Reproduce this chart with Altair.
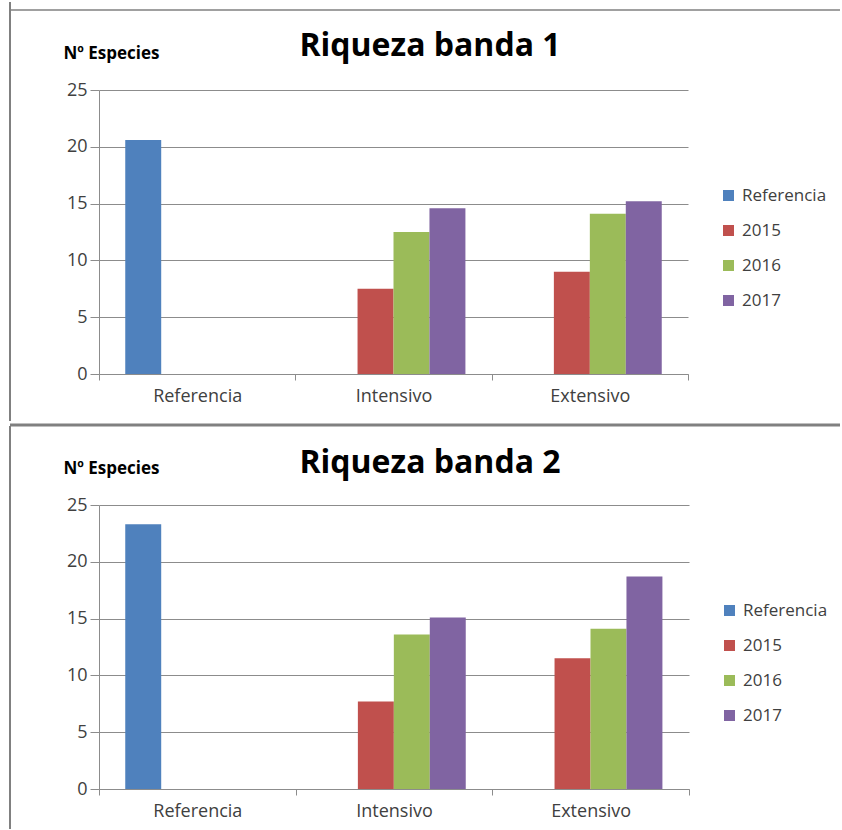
import altair as alt
import pandas as pd

# Categories, series and colours
categorias = ["Referencia", "Intensivo", "Extensivo"]
series = ["Referencia", "2015", "2016", "2017"]
colores = ["#4F81BD", "#C0504D", "#9BBB59", "#8064A2"]
y_ticks = [0, 5, 10, 15, 20, 25]

# Riqueza banda 1 (values per category, None = no bar)
b1_referencia = [20.6, None, None]
b1_2015 = [None, 7.5, 9.0]
b1_2016 = [None, 12.5, 14.1]
b1_2017 = [None, 14.6, 15.2]

# Riqueza banda 2
b2_referencia = [23.3, None, None]
b2_2015 = [None, 7.7, 11.5]
b2_2016 = [None, 13.6, 14.1]
b2_2017 = [None, 15.1, 18.7]

FONT = "Open Sans"
TXT = "#404040"
GRID = "#8C8C8C"
FRAME = "#808080"
LEFT = 99  # distance from page edge to the plot area


def tabla(*cols):
    rows = []
    for serie, vals in zip(series, cols):
        for cat, v in zip(categorias, vals):
            if v is not None:
                rows.append({"categoria": cat, "serie": serie, "valor": v})
    return pd.DataFrame(rows)


def panel(df, titulo, width, top, bottom_h, frame_top_y, frame_top_w, title_y):
    height = 284
    right = 842 - LEFT
    one = pd.DataFrame({"k": [0]})

    # invisible box that fixes the panel's extent
    caja = alt.Chart(one).mark_rect(fillOpacity=0, strokeOpacity=0).encode(
        x=alt.value(-LEFT), x2=alt.value(right),
        y=alt.value(-top), y2=alt.value(bottom_h),
    )
    # frame lines around the panel
    linea_sup = alt.Chart(one).mark_rule(color=FRAME, strokeWidth=frame_top_w).encode(
        x=alt.value(-LEFT + 10), x2=alt.value(right - 2), y=alt.value(frame_top_y)
    )
    linea_izq = alt.Chart(one).mark_rule(color=FRAME, strokeWidth=2).encode(
        x=alt.value(-LEFT + 10), y=alt.value(-top + 2), y2=alt.value(bottom_h - 2)
    )
    # chart heading
    cabecera = alt.Chart(one).mark_text(
        font=FONT, fontSize=32, fontWeight="bold", color="#000",
        align="center", baseline="alphabetic",
    ).encode(x=alt.value(331), y=alt.value(title_y), text=alt.value(titulo))

    barras = alt.Chart(df).mark_bar().encode(
        x=alt.X(
            "categoria:N",
            sort=categorias,
            scale=alt.Scale(domain=categorias, paddingInner=0, paddingOuter=0),
            axis=alt.Axis(
                title=None, labelAngle=0, tickBand="extent", tickSize=6,
                domainColor=GRID, tickColor=GRID, labelFont=FONT,
                labelFontSize=18, labelColor=TXT, labelPadding=7, grid=False,
            ),
        ),
        xOffset=alt.XOffset(
            "serie:N",
            scale=alt.Scale(domain=series, paddingInner=0, paddingOuter=0.73),
        ),
        y=alt.Y(
            "valor:Q",
            scale=alt.Scale(domain=[0, 25], nice=False),
            axis=alt.Axis(
                values=y_ticks, title="Nº Especies", titleAngle=0,
                titleX=-36, titleY=-32, titleAlign="left",
                titleBaseline="alphabetic", titleFont=FONT, titleFontSize=17,
                titleFontWeight="bold", titleColor="#000",
                grid=True, gridColor=GRID, domainColor=GRID, tickColor=GRID,
                tickSize=9, labelPadding=3, labelFont=FONT, labelFontSize=18,
                labelColor=TXT,
            ),
        ),
        color=alt.Color(
            "serie:N",
            sort=series,
            scale=alt.Scale(domain=series, range=colores),
            legend=alt.Legend(
                title=None, orient="none", legendX=width + 32, legendY=97,
                symbolType="square", symbolSize=121, symbolStrokeWidth=0,
                labelFont=FONT, labelFontSize=17, labelColor=TXT,
                rowPadding=17, labelOffset=5, padding=0,
            ),
        ),
    )

    return alt.layer(caja, linea_sup, linea_izq, cabecera, barras).properties(
        width=width, height=height
    )


sup = panel(tabla(b1_referencia, b1_2015, b1_2016, b1_2017),
            "Riqueza banda 1", 589, 90, 333, -80, 1.5, -34)
inf = panel(tabla(b2_referencia, b2_2015, b2_2016, b2_2017),
            "Riqueza banda 2", 590, 81, 326, -80, 3, -32)

chart = alt.ConcatChart(
    concat=[sup, inf], columns=1, spacing=0, padding=0
).resolve_legend(color="independent").configure_view(stroke=None)

chart.save("out.html", embed_options={"renderer": "svg", "actions": False})
